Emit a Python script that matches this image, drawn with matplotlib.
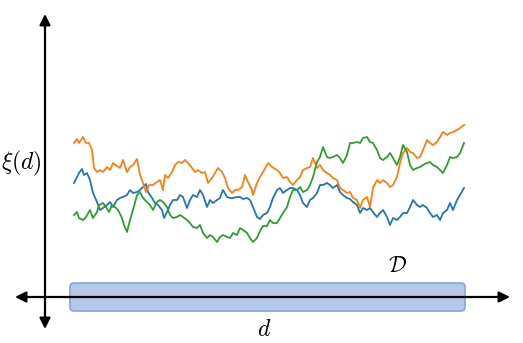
import matplotlib
matplotlib.use('Agg')
import matplotlib.pyplot as plt
from matplotlib.patches import FancyBboxPatch

plt.rcParams['mathtext.fontset'] = 'cm'

# traces (pixel-like units, y grows downward)
x_orange = [74, 77, 79, 83, 86, 89, 92, 94, 97, 100, 103, 107, 110, 113, 117, 120, 123, 127, 130, 133,
            137, 140, 143, 146, 149, 153, 157, 160, 163, 165, 168, 172, 175, 178, 182, 185, 188, 192, 195, 198,
            202, 205, 208, 212, 215, 218, 222, 225, 228, 232, 235, 238, 242, 245, 248, 252, 253, 257, 260, 263,
            268, 272, 277, 280, 283, 287, 290, 293, 297, 300, 303, 307, 310, 313, 317, 320, 323, 327, 330, 333,
            337, 340, 343, 347, 350, 353, 357, 360, 363, 367, 370, 373, 377, 380, 383, 387, 390, 393, 397, 400,
            403, 407, 410, 413, 417, 420, 423, 427, 430, 433, 437, 440, 443, 447, 450, 453, 457, 460, 464]
y_orange = [143, 139, 143, 137, 143, 143, 150, 168, 172, 170, 172, 167, 170, 163, 166, 168, 160, 172, 167, 165,
            159, 175, 183, 192, 185, 185, 182, 180, 190, 175, 178, 172, 165, 162, 163, 160, 163, 168, 172, 170,
            173, 172, 183, 178, 173, 168, 172, 178, 188, 193, 190, 190, 187, 175, 182, 190, 195, 183, 177, 172,
            163, 167, 170, 173, 178, 177, 182, 185, 180, 177, 170, 168, 167, 158, 168, 165, 170, 173, 175, 178,
            180, 188, 190, 193, 192, 198, 200, 208, 200, 197, 207, 188, 180, 183, 180, 183, 187, 185, 177, 163,
            153, 148, 152, 153, 158, 157, 150, 140, 143, 145, 142, 137, 132, 135, 133, 132, 130, 128, 125]

x_blue = [74, 77, 79, 82, 84, 87, 90, 93, 97, 100, 103, 107, 110, 113, 117, 120, 123, 127, 130, 133,
          137, 140, 143, 146, 148, 152, 155, 158, 162, 164, 167, 170, 173, 177, 180, 183, 187, 190, 193, 197,
          200, 203, 207, 210, 213, 217, 220, 223, 227, 230, 233, 237, 240, 243, 247, 250, 253, 257, 260, 263,
          267, 270, 273, 277, 280, 283, 287, 290, 293, 297, 300, 303, 307, 310, 313, 317, 320, 323, 327, 330,
          333, 337, 340, 343, 347, 350, 353, 357, 360, 363, 367, 370, 373, 377, 380, 383, 387, 390, 393, 397,
          400, 403, 407, 410, 413, 417, 420, 423, 427, 430, 433, 437, 440, 443, 447, 450, 453, 457, 460, 464]
y_blue = [183, 177, 173, 169, 175, 173, 180, 193, 202, 210, 208, 205, 202, 207, 200, 198, 197, 195, 190, 193,
          192, 190, 187, 184, 192, 198, 203, 205, 210, 218, 212, 205, 200, 200, 195, 197, 208, 200, 195, 197,
          190, 195, 207, 200, 203, 200, 198, 190, 197, 198, 198, 197, 197, 199, 198, 200, 207, 217, 219, 215,
          213, 207, 198, 190, 188, 193, 190, 188, 188, 190, 195, 203, 207, 200, 198, 193, 185, 185, 183, 185,
          188, 185, 192, 195, 198, 199, 202, 205, 213, 208, 210, 208, 212, 217, 213, 210, 217, 225, 218, 220,
          217, 213, 213, 207, 200, 205, 207, 205, 208, 213, 217, 215, 220, 213, 210, 203, 210, 200, 195, 188]

x_green = [74, 77, 79, 83, 86, 90, 93, 97, 99, 103, 106, 109, 112, 115, 118, 122, 124, 127, 130, 133,
           137, 140, 143, 147, 150, 153, 157, 160, 163, 167, 170, 173, 177, 180, 183, 187, 190, 193, 197, 200,
           203, 207, 210, 213, 217, 220, 223, 227, 230, 233, 237, 240, 243, 247, 250, 253, 257, 260, 263, 267,
           270, 273, 277, 280, 283, 287, 290, 293, 297, 300, 303, 307, 310, 313, 317, 320, 323, 327, 330, 333,
           337, 340, 343, 347, 350, 353, 357, 360, 363, 367, 370, 373, 377, 380, 383, 387, 390, 393, 397, 400,
           403, 407, 410, 413, 417, 420, 423, 427, 430, 433, 437, 440, 443, 447, 450, 453, 457, 460, 464]
y_green = [215, 212, 218, 220, 217, 210, 218, 212, 205, 203, 207, 212, 205, 207, 210, 218, 225, 232, 220, 210,
           195, 192, 198, 202, 205, 210, 202, 200, 202, 207, 215, 218, 217, 215, 217, 220, 223, 227, 228, 225,
           233, 238, 235, 237, 242, 237, 235, 237, 238, 233, 235, 228, 230, 233, 238, 242, 238, 231, 226, 226,
           220, 223, 223, 218, 213, 207, 197, 190, 190, 187, 192, 190, 185, 177, 162, 157, 147, 157, 158, 157,
           155, 158, 163, 155, 143, 143, 142, 143, 138, 137, 142, 143, 150, 158, 160, 157, 153, 158, 165, 157,
           145, 152, 165, 170, 168, 167, 165, 163, 162, 165, 167, 170, 173, 165, 157, 158, 157, 153, 143]

fig = plt.figure(figsize=(5.23, 3.43), dpi=100)
ax = fig.add_axes([0, 0, 1, 1])
ax.set_xlim(0, 523)
ax.set_ylim(343, 0)
ax.axis('off')

# domain box
box = FancyBboxPatch((70, 283), 395, 28, boxstyle='round,pad=0,rounding_size=4',
                     facecolor='#b4c7e7', edgecolor='#8eaadb', lw=1.3, zorder=1)
ax.add_patch(box)

# axes with arrows
arr = dict(arrowstyle='<|-|>', color='black', lw=1.6, mutation_scale=16, shrinkA=0, shrinkB=0)
ax.annotate('', xy=(45, 14), xytext=(45, 329), arrowprops=arr, zorder=2)
ax.annotate('', xy=(510, 297), xytext=(15, 297), arrowprops=arr, zorder=2)

ax.plot(x_blue, y_blue, color='#1f77b4', lw=1.3, zorder=3)
ax.plot(x_orange, y_orange, color='#ff7f0e', lw=1.3, zorder=3)
ax.plot(x_green, y_green, color='#2ca02c', lw=1.3, zorder=3)

ax.text(21, 163, r'$\xi(d)$', fontsize=17, ha='center', va='center')
ax.text(264, 329, r'$d$', fontsize=17, ha='center', va='center')
ax.text(398, 266, r'$\mathcal{D}$', fontsize=16, ha='center', va='center')

fig.savefig('out.png', dpi=100)
